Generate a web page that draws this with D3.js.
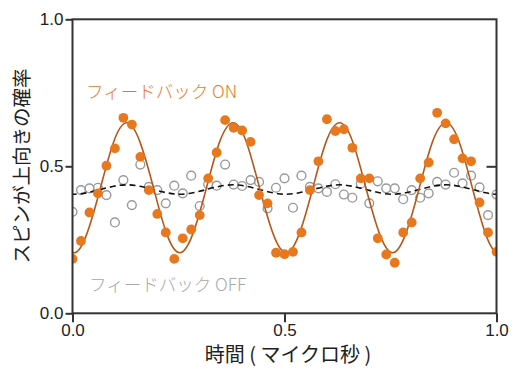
<!DOCTYPE html>
<html><head><meta charset="utf-8">
<script src="https://cdn.jsdelivr.net/npm/d3@7"></script>
<style>
html,body{margin:0;padding:0;background:#fff;}
svg{display:block;}
</style>
</head><body>
<svg id="chart" width="520" height="380"></svg>
<script>
// ---- data ----
const times = [0.00,0.02,0.04,0.06,0.08,0.10,0.12,0.14,0.16,0.18,
  0.20,0.22,0.24,0.26,0.28,0.30,0.32,0.34,0.36,0.38,
  0.40,0.42,0.44,0.46,0.48,0.50,0.52,0.54,0.56,0.58,
  0.60,0.62,0.64,0.66,0.68,0.70,0.72,0.74,0.76,0.78,
  0.80,0.82,0.84,0.86,0.88,0.90,0.92,0.94,0.96,0.98,1.00];
const feedbackOn = [0.185,0.246,0.343,0.408,0.502,0.561,0.665,0.642,0.532,0.419,
  0.338,0.275,0.185,0.255,0.285,0.334,0.459,0.547,0.657,0.631,
  0.622,0.583,0.402,0.374,0.206,0.201,0.209,0.275,0.419,0.517,
  0.660,0.620,0.626,0.563,0.459,0.459,0.255,0.200,0.172,0.275,
  0.309,0.459,0.513,0.682,0.646,0.592,0.527,0.517,0.377,0.275,0.209];
const feedbackOff = [0.345,0.419,0.425,0.427,0.402,0.309,0.453,0.368,0.506,0.430,
  0.419,0.374,0.434,0.408,0.468,0.365,0.439,0.434,0.506,0.438,
  0.433,0.453,0.447,0.357,0.427,0.459,0.359,0.468,0.430,0.425,
  0.413,0.439,0.404,0.393,0.441,0.374,0.449,0.425,0.425,0.388,
  0.419,0.393,0.408,0.447,0.438,0.478,0.442,0.468,0.428,0.334,0.404];
// fitted curves
const fitT = [-0.028,0.003,0.034,0.066,0.097,0.128,0.159,0.191,0.222,0.253,
  0.284,0.316,0.347,0.379,0.410,0.441,0.473,0.504,0.535,0.567,
  0.598,0.630,0.661,0.692,0.724,0.755,0.786,0.818,0.849,0.881,
  0.912,0.943,0.974,1.005,1.036];
const fitOn = [0.271,0.206,0.271,0.427,0.583,0.648,0.583,0.427,0.271,0.206,
  0.271,0.427,0.583,0.648,0.583,0.427,0.271,0.206,0.271,0.427,
  0.583,0.648,0.583,0.427,0.271,0.206,0.271,0.427,0.583,0.648,
  0.583,0.427,0.271,0.206,0.271];
const fitOff = [0.410,0.405,0.410,0.421,0.432,0.437,0.432,0.421,0.410,0.405,
  0.410,0.421,0.432,0.437,0.432,0.421,0.410,0.405,0.410,0.421,
  0.432,0.437,0.432,0.421,0.410,0.405,0.410,0.421,0.432,0.437,
  0.432,0.421,0.410,0.405,0.410];
const xTicks = [0, 0.5, 1.0];
const yTicks = [0, 0.5, 1.0];
const xTitle = "時間 ( マイクロ秒 )";
const yTitle = "スピンが上向きの確率";
const labelOn = "フィードバック ON";
const labelOff = "フィードバック OFF";

// ---- drawing ----
const svg = d3.select("#chart");
const x = d3.scaleLinear().domain([0,1]).range([72.5,496.5]);
const y = d3.scaleLinear().domain([0,1]).range([313.3,19.3]);
const axisColor = "#333";
const numFont = "'Liberation Sans', Arial, sans-serif";
const jpFont = "'Noto Sans CJK JP', 'Noto Sans', sans-serif";

svg.append("defs").append("clipPath").attr("id","plotclip")
  .append("rect").attr("x",x(0)).attr("y",y(1)).attr("width",x(1)-x(0)).attr("height",y(0)-y(1));

const plot = svg.append("g").attr("clip-path","url(#plotclip)");

const pts = (vals) => fitT.map((t,i)=>[t, vals[i]]);
const line = d3.line().x(d=>x(d[0])).y(d=>y(d[1])).curve(d3.curveNatural);

// OFF circles
plot.selectAll("circle.off").data(times.map((t,i)=>[t,feedbackOff[i]])).enter()
  .append("circle").attr("class","off")
  .attr("cx",d=>x(d[0])).attr("cy",d=>y(d[1])).attr("r",4.4)
  .attr("fill","none").attr("stroke","#9a9a9a").attr("stroke-width",1.4);

// dashed OFF fit
plot.append("path").attr("d",line(pts(fitOff)))
  .attr("fill","none").attr("stroke","#111").attr("stroke-width",1.6)
  .attr("stroke-dasharray","6,4");

// ON fit
plot.append("path").attr("d",line(pts(fitOn)))
  .attr("fill","none").attr("stroke","#b5581c").attr("stroke-width",1.6);

// ON dots
plot.selectAll("circle.on").data(times.map((t,i)=>[t,feedbackOn[i]])).enter()
  .append("circle").attr("class","on")
  .attr("cx",d=>x(d[0])).attr("cy",d=>y(d[1])).attr("r",4.9)
  .attr("fill","#e8781e");

// frame
const frame = svg.append("g");
frame.append("rect").attr("x",x(0)).attr("y",y(1)).attr("width",x(1)-x(0)).attr("height",y(0)-y(1))
  .attr("fill","none").attr("stroke",axisColor).attr("stroke-width",2);

// axes
const fmt = d3.format(".1f");
const gl = svg.append("g").attr("transform",`translate(${x(0)},0)`)
  .call(d3.axisLeft(y).tickValues(yTicks).tickFormat(fmt).tickSize(7).tickPadding(2));
const gb = svg.append("g").attr("transform",`translate(0,${y(0)})`)
  .call(d3.axisBottom(x).tickValues(xTicks).tickFormat(fmt).tickSize(9).tickPadding(2));
const gr = svg.append("g").attr("transform",`translate(${x(1)},0)`)
  .call(d3.axisRight(y).tickValues([0.5]).tickFormat("").tickSize(-10));
[gl,gb,gr].forEach(g=>{
  g.select(".domain").remove();
  g.selectAll(".tick line").attr("stroke",axisColor).attr("stroke-width",2);
  g.selectAll(".tick text").attr("fill","#222").style("font-family",numFont).style("font-size","17px");
});

// titles
svg.append("text").attr("x",288).attr("y",362).attr("text-anchor","middle")
  .style("font-family",jpFont).style("font-size","20px").attr("fill","#222").text(xTitle);
svg.append("text").attr("transform","translate(29,166) rotate(-90)").attr("text-anchor","middle")
  .style("font-family",jpFont).style("font-size","19.5px").attr("fill","#222").text(yTitle);

// legend labels
svg.append("text").attr("x",86).attr("y",98)
  .style("font-family",jpFont).style("font-size","17.5px").style("font-weight","300").attr("fill","#e8781e").text(labelOn);
svg.append("text").attr("x",89).attr("y",291)
  .style("font-family",jpFont).style("font-size","17.5px").style("font-weight","300").attr("fill","#a8a8a8").text(labelOff);
</script>
</body></html>
